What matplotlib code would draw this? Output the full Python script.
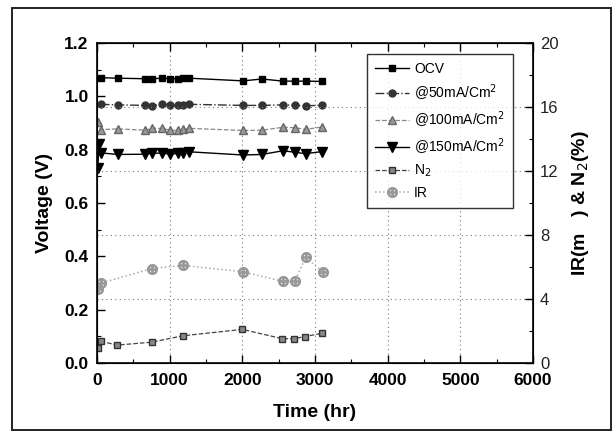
import matplotlib
matplotlib.use("Agg")
import matplotlib.pyplot as plt
from matplotlib.patches import Rectangle
from matplotlib.ticker import MultipleLocator

plt.rcParams['font.family'] = ['Liberation Sans', 'DejaVu Sans']

# ---- data ----
t_volt = [50, 290, 660, 760, 900, 1010, 1110, 1190, 1270, 2010, 2270, 2560, 2730, 2870, 3100]
ocv = [1.070, 1.068, 1.066, 1.066, 1.068, 1.066, 1.066, 1.067, 1.068, 1.058, 1.065, 1.057, 1.057, 1.057, 1.056]
ma50 = [0.970, 0.968, 0.966, 0.963, 0.972, 0.966, 0.966, 0.968, 0.970, 0.966, 0.966, 0.968, 0.966, 0.965, 0.966]
t_100 = [10] + t_volt
ma100 = [0.905, 0.875, 0.878, 0.873, 0.880, 0.880, 0.872, 0.873, 0.876, 0.880, 0.872, 0.873, 0.884, 0.882, 0.876, 0.885]
t_150 = [10, 30] + t_volt
ma150 = [0.730, 0.820, 0.788, 0.782, 0.783, 0.787, 0.787, 0.783, 0.786, 0.789, 0.792, 0.780, 0.782, 0.796, 0.790, 0.785, 0.793]

t_n2 = [10, 60, 280, 750, 1180, 2000, 2550, 2710, 2860, 3090]
n2 = [0.95, 1.35, 1.12, 1.30, 1.70, 2.10, 1.52, 1.52, 1.65, 1.85]
t_ir = [10, 60, 750, 1180, 2010, 2560, 2720, 2870, 3110]
ir = [4.6, 5.0, 5.9, 6.1, 5.7, 5.1, 5.1, 6.6, 5.7]

labels = ["OCV", "@50mA/Cm$^2$", "@100mA/Cm$^2$", "@150mA/Cm$^2$", "N$_2$", "IR"]

fig = plt.figure(figsize=(6.16, 4.41), dpi=100)
ax = fig.add_axes([97/616, 1-363/441, (533-97)/616, (363-43)/441])
ax2 = ax.twinx()

# frame around figure
fig.patches.append(Rectangle((12/616, 1-430/441), (611-12)/616, (430-8)/441,
                             transform=fig.transFigure, fill=False,
                             edgecolor='#222222', linewidth=1.4))

h = []
h += ax.plot(t_volt, ocv, color='black', ls='-', lw=1.0, marker='s', ms=5, label=labels[0])
h += ax.plot(t_volt, ma50, color='#333333', ls='-.', lw=1.0, marker='o', ms=5, label=labels[1])
h += ax.plot(t_100, ma100, color='#888888', ls='--', lw=0.9, marker='^', ms=5.5,
             mfc='#999999', mec='#666666', label=labels[2])
h += ax.plot(t_150, ma150, color='black', ls='-', lw=1.0, marker='v', ms=6.5, label=labels[3])
h += ax2.plot(t_n2, n2, color='#444444', ls='--', lw=0.9, marker='s', ms=5,
              mfc='#888888', mec='#333333', label=labels[4])
h += ax2.plot(t_ir, ir, color='#aaaaaa', ls=':', lw=1.1, marker=r'$\oplus$', ms=7,
              mfc='#999999', mec='#999999', label=labels[5])

ax.set_xlim(0, 6000)
ax.set_ylim(0.0, 1.2)
ax2.set_ylim(0, 20)

ax.xaxis.set_major_locator(MultipleLocator(1000))
ax.xaxis.set_minor_locator(MultipleLocator(500))
ax.yaxis.set_major_locator(MultipleLocator(0.2))
ax.yaxis.set_minor_locator(MultipleLocator(0.1))
ax2.yaxis.set_major_locator(MultipleLocator(4))
ax2.yaxis.set_minor_locator(MultipleLocator(2))

ax.tick_params(axis='both', which='both', direction='in', top=True, right=False)
ax.tick_params(which='major', length=6, width=1)
ax.tick_params(which='minor', length=3, width=0.8)
ax.tick_params(axis='x', which='major', pad=7)
ax.tick_params(axis='y', which='major', pad=6)
ax2.tick_params(axis='y', which='both', direction='in')
ax2.tick_params(which='major', length=6, width=1, labelsize=12, labelcolor='#222222', pad=5)
ax2.tick_params(which='minor', length=3, width=0.8)

ax.yaxis.set_major_formatter(plt.FuncFormatter(lambda v, p: f"{v:.1f}"))
for lab in ax.get_xticklabels() + ax.get_yticklabels():
    lab.set_fontweight('bold')
    lab.set_fontsize(12.5)

ax.grid(axis='x', which='major', ls=(0, (1, 3)), color='#777777', lw=0.8)
ax2.grid(axis='y', which='major', ls=(0, (1, 3)), color='#777777', lw=0.8)

for sp in ax.spines.values():
    sp.set_linewidth(1.2)

ax.set_xlabel("Time (hr)", fontsize=14, fontweight='bold', labelpad=12)
ax.set_ylabel("Voltage (V)", fontsize=14, fontweight='bold', labelpad=8)
ax2.set_ylabel("IR(m   ) & N$_2$(%)", fontsize=14, fontweight='bold', labelpad=8)

leg = ax2.legend(h, labels, loc='upper left', bbox_to_anchor=((367-97)/436, 1-(54-43)/320),
                 borderaxespad=0, fontsize=10, frameon=True, fancybox=False, edgecolor='black',
                 borderpad=0.6, handlelength=2.4, labelspacing=0.45, handletextpad=0.4)
leg.get_frame().set_linewidth(1.0)

fig.savefig("out.png", dpi=100)
